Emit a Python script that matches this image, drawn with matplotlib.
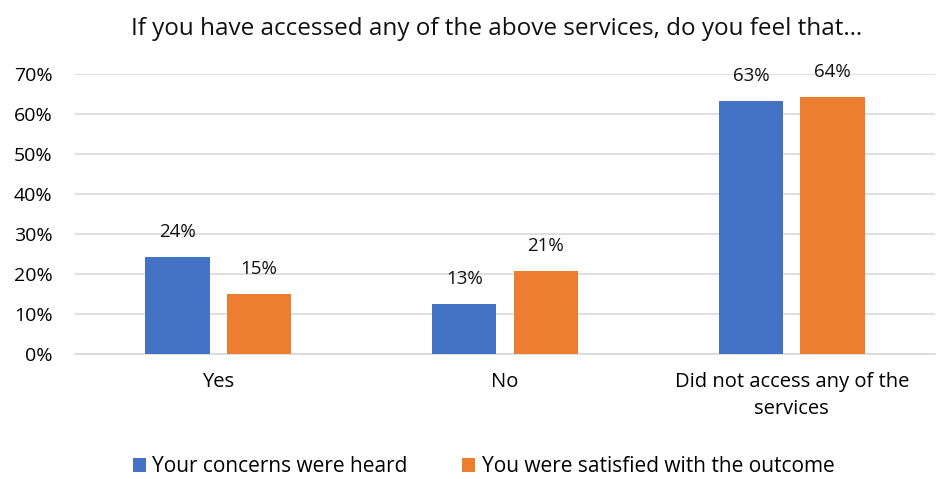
import numpy as np
import matplotlib
matplotlib.use('Agg')
import matplotlib.pyplot as plt

plt.rcParams['font.family'] = ['Open Sans', 'DejaVu Sans']

categories = ['Yes', 'No', 'Did not access any of the\nservices']
heard = [24.2, 12.6, 63.2]
satisfied = [15.0, 20.8, 64.3]
heard_labels = ['24%', '13%', '63%']
satisfied_labels = ['15%', '21%', '64%']

blue = '#4472C4'
orange = '#ED7D31'

fig = plt.figure(figsize=(9.37, 4.79), dpi=100)
ax = fig.add_axes([0.08, 0.261, 0.918, 0.584])

x = np.arange(len(categories))
w = 0.224
b1 = ax.bar(x - 0.142, heard, w, color=blue, label='Your concerns were heard', zorder=3)
b2 = ax.bar(x + 0.142, satisfied, w, color=orange, label='You were satisfied with the outcome', zorder=3)

for bars, labs in [(b1, heard_labels), (b2, satisfied_labels)]:
    for bar, lab in zip(bars, labs):
        ax.text(bar.get_x() + bar.get_width() / 2, bar.get_height() + 4.0, lab,
                ha='center', va='bottom', fontsize=13.5, color='#111111')

ax.set_xlim(-0.5, 2.5)
ax.set_ylim(0, 70)
ax.set_yticks(range(0, 71, 10))
ax.set_yticklabels([f'{v}%' for v in range(0, 71, 10)], fontsize=14)
ax.set_xticks(x)
ax.set_xticklabels(categories, fontsize=14.5, linespacing=1.45)
ax.tick_params(length=0)
ax.tick_params(axis='x', pad=13)
ax.tick_params(axis='y', pad=16)
ax.grid(axis='y', color='#d9d9d9', linewidth=1.2, zorder=0)
for s in ['top', 'right', 'left']:
    ax.spines[s].set_visible(False)
ax.spines['bottom'].set_color('#d9d9d9')
ax.spines['bottom'].set_linewidth(1.2)

fig.text(0.53, 0.94, 'If you have accessed any of the above services, do you feel that\u2026',
         ha='center', va='center', fontsize=17.5, color='#111111')

fig.legend(loc='center', bbox_to_anchor=(0.516, 0.026), ncol=2, frameon=False,
           fontsize=15, handlelength=0.65, handleheight=0.65, handletextpad=0.3,
           columnspacing=2.6)

fig.savefig('out.png', dpi=100)
